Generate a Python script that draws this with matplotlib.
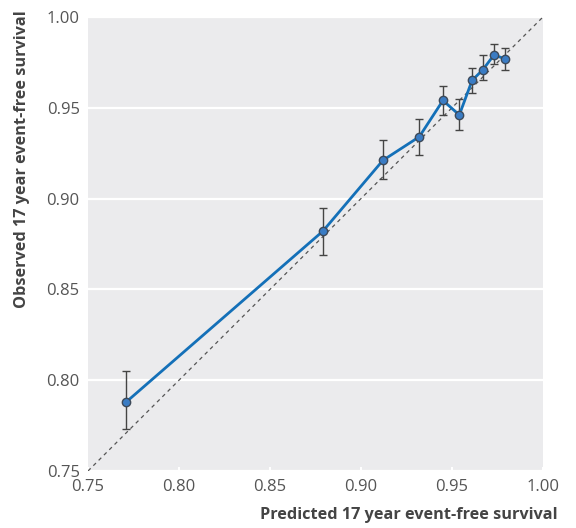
import numpy as np
import matplotlib.pyplot as plt

# calibration data
predicted = [0.771, 0.879, 0.912, 0.932, 0.945, 0.954, 0.961, 0.967, 0.973, 0.979]
observed = [0.788, 0.882, 0.921, 0.934, 0.954, 0.946, 0.965, 0.971, 0.979, 0.977]
ci_low = [0.773, 0.869, 0.911, 0.924, 0.946, 0.938, 0.958, 0.965, 0.974, 0.971]
ci_high = [0.805, 0.895, 0.932, 0.944, 0.962, 0.955, 0.972, 0.979, 0.985, 0.983]
ticks = [0.75, 0.80, 0.85, 0.90, 0.95, 1.00]
tick_labels = ["0.75", "0.80", "0.85", "0.90", "0.95", "1.00"]

plt.rcParams['font.family'] = ['Open Sans', 'DejaVu Sans']

fig = plt.figure(figsize=(5.76, 5.28), dpi=100)
ax = fig.add_axes([0.1528, 0.108, 0.79, 0.86])
ax.set_facecolor("#ebebed")

# diagonal reference line
ax.plot([0.75, 1.0], [0.75, 1.0], linestyle=(0, (3, 3)), color="#555555", lw=0.9, zorder=2)

obs = np.array(observed)
yerr = [obs - np.array(ci_low), np.array(ci_high) - obs]
ax.errorbar(predicted, observed, yerr=yerr, fmt="none", ecolor="#444444",
            elinewidth=1, capsize=3, capthick=1, zorder=3)
ax.plot(predicted, observed, color="#1470b8", lw=2, zorder=4)
ax.scatter(predicted, observed, s=36, color="#3a7cc4", edgecolor="#3d4a5a",
           linewidth=1, zorder=5)

ax.set_xlim(0.75, 1.0)
ax.set_ylim(0.75, 1.0)
ax.set_xticks(ticks)
ax.set_xticklabels(tick_labels)
ax.set_yticks(ticks)
ax.set_yticklabels(tick_labels)
ax.grid(axis="y", color="white", lw=1.6, zorder=0)
ax.set_axisbelow(True)
for s in ax.spines.values():
    s.set_visible(False)
ax.tick_params(axis="x", direction="in", length=3, color="white", width=1.5,
               labelsize=12, labelcolor="#555555", pad=6)
ax.tick_params(axis="y", length=0, labelsize=12, labelcolor="#555555", pad=6)

fig.text(558 / 576, 1 - 515 / 528, "Predicted 17 year event-free survival", fontsize=11.7,
         fontweight="bold", color="#444444", ha="right", va="center")
fig.text(22 / 576, 1 - 10 / 528, "Observed 17 year event-free survival", fontsize=11.7,
         fontweight="bold", color="#444444", ha="center", va="top", rotation=90)

fig.savefig("out.png", dpi=100)
